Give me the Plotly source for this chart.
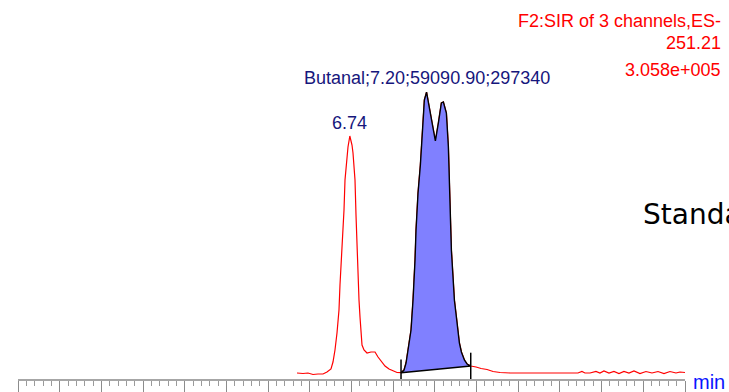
import plotly.graph_objects as go

# SIR chromatogram, channel 251.21 (ES-): retention time (min) and intensity (counts)
rt = [6.423, 6.459, 6.489, 6.519, 6.549, 6.579, 6.603, 6.627, 6.639, 6.651,
      6.663, 6.675, 6.681, 6.693, 6.705, 6.711, 6.723, 6.729, 6.740, 6.753,
      6.759, 6.771, 6.777, 6.783, 6.789, 6.795, 6.801, 6.807, 6.813, 6.825,
      6.843, 6.867, 6.891, 6.909, 6.927, 6.951, 6.975, 6.999, 7.023, 7.047,
      7.065, 7.077, 7.089, 7.107, 7.119, 7.125, 7.131, 7.137, 7.149, 7.163,
      7.175, 7.187, 7.200, 7.217, 7.241, 7.253, 7.271, 7.289, 7.301, 7.319,
      7.331, 7.337, 7.343, 7.349, 7.361, 7.367, 7.379, 7.397, 7.409, 7.427,
      7.443, 7.465, 7.497, 7.527, 7.563, 7.599, 7.641, 7.701, 7.820, 7.970,
      8.108, 8.132, 8.150, 8.180, 8.216, 8.240, 8.264, 8.294, 8.324, 8.354,
      8.384, 8.414, 8.444, 8.480, 8.516, 8.552, 8.588, 8.624, 8.660, 8.696,
      8.720, 8.750]
counts = [3142, 2618, 3142, 1571, 2095, 2095, 4189, 7331, 14662, 27230,
          45034, 69122, 95304, 131960, 173852, 205271, 231453, 239832, 251352, 241926,
          233548, 205271, 168615, 131960, 98446, 79595, 61791, 45034, 32466, 27230,
          24088, 25135, 25135, 19899, 15710, 10473, 7331, 5237, 3666, 3456,
          6284, 13615, 27230, 48176, 79595, 97399, 121487, 152906, 191656, 220980,
          257636, 289055, 297340, 281724, 257636, 246116, 264967, 285913, 286960, 275440,
          239832, 205271, 168615, 131960, 97399, 79595, 61791, 34561, 25135, 16757,
          12568, 10473, 9426, 7855, 6807, 4713, 3666, 3142, 3142, 3142,
          3142, 4713, 3142, 3142, 4713, 3142, 5237, 3142, 4713, 2618,
          4713, 3142, 5237, 2618, 4713, 3142, 4713, 2618, 4713, 3142,
          4189, 3666]

# Integrated peak (Butanal)
compound = "Butanal"
apex_rt = 7.20
peak_area = 59090.90
peak_height = 297340
int_start = 7.047
int_end = 7.465

# Unlabelled neighbour peak
side_apex_rt = 6.74

# Header text
header_lines = ["F2:SIR of 3 channels,ES-", "251.21", "3.058e+005"]
full_scale = 305800
sample_title = "Standard"

x_range = [4.75, 8.75]
major_step = 0.25
minor_step = 0.05

RED = "#ff0000"
NAVY = "#16167c"

i0 = rt.index(int_start)
i1 = rt.index(int_end)

fig = go.Figure()

# Full trace
fig.add_trace(go.Scatter(x=rt, y=counts, mode="lines",
                         line=dict(color=RED, width=1.2), hoverinfo="skip"))

# Integrated area: trace from start to end, closed along the drop baseline
area_x = rt[i0:i1 + 1] + [rt[i0]]
area_y = counts[i0:i1 + 1] + [counts[i0]]
fig.add_trace(go.Scatter(x=area_x, y=area_y, mode="lines", fill="toself",
                         fillcolor="#8080ff",
                         line=dict(color="black", width=1.4), hoverinfo="skip"))

# Integration start/end markers
fig.add_trace(go.Scatter(x=[rt[i0], rt[i1]], y=[counts[i0], counts[i1]],
                         mode="markers",
                         marker=dict(symbol="line-ns-open", size=19, color="black",
                                     line=dict(color="black", width=1.5)),
                         hoverinfo="skip"))

# Plot-area geometry (pixels)
W, H = 729, 392
L, R, T, B = 18, 685, 84, 379


def px(xp):
    return (xp - L) / (R - L)


def py(yp):
    return (B - yp) / (B - T)


ann = []
header_y = [20.7, 42.8, 70.0]
for txt, yp in zip(header_lines, header_y):
    ann.append(dict(text=txt, xref="paper", yref="paper", x=px(722), y=py(yp),
                    xanchor="right", yanchor="middle", showarrow=False,
                    borderpad=0, font=dict(color=RED, size=18)))

ann.append(dict(text=f"{compound};{apex_rt:.2f};{peak_area:.2f};{peak_height}",
                xref="x", yref="y", x=apex_rt, y=peak_height,
                xanchor="center", yanchor="middle", yshift=14,
                showarrow=False, borderpad=0, font=dict(color=NAVY, size=18)))

side_height = counts[rt.index(side_apex_rt)]
ann.append(dict(text=f"{side_apex_rt:.2f}", xref="x", yref="y",
                x=side_apex_rt, y=side_height, xanchor="center",
                yanchor="middle", yshift=12.5, showarrow=False, borderpad=0,
                font=dict(color=NAVY, size=18)))

ann.append(dict(text=sample_title,
                xref="paper", yref="paper", x=px(642),
                y=py(214), xanchor="left", yanchor="middle", showarrow=False,
                borderpad=0,
                font=dict(color="black", size=28, family="DejaVu Sans")))

ann.append(dict(text="min", xref="paper", yref="paper", x=px(692),
                y=py(381.8), xanchor="left", yanchor="middle", showarrow=False,
                borderpad=0, font=dict(color="#0a14ff", size=20)))

fig.update_layout(
    width=W, height=H, autosize=False,
    margin=dict(l=L, r=W - R, t=T, b=H - B, pad=0, autoexpand=False),
    paper_bgcolor="white", plot_bgcolor="white",
    showlegend=False,
    font=dict(family="Liberation Sans, Arial, sans-serif"),
    annotations=ann,
    xaxis=dict(range=x_range, showgrid=False, zeroline=False, automargin=False,
               showline=True, linecolor="#a6a6a6", linewidth=2,
               ticks="outside", tick0=x_range[0], dtick=major_step,
               ticklen=11, tickwidth=1.3, tickcolor="#8c8c8c",
               showticklabels=False,
               minor=dict(ticks="outside", tick0=x_range[0], dtick=minor_step,
                          ticklen=5, tickwidth=1, tickcolor="#9a9a9a",
                          showgrid=False)),
    yaxis=dict(range=[-3142, full_scale], visible=False, showgrid=False,
               zeroline=False, automargin=False),
)

fig.write_html("out.html", config={"displayModeBar": False})
